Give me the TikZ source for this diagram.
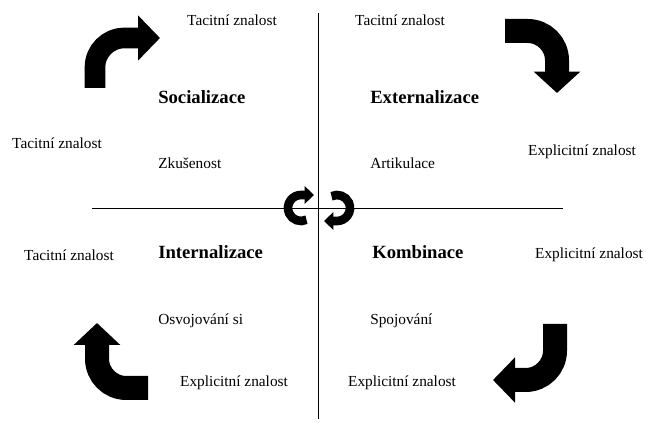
\documentclass[tikz,border=0pt]{standalone}
\usepackage{fontspec}
\setmainfont{Liberation Serif}
\usetikzlibrary{arrows.meta}

\begin{document}
\begin{tikzpicture}[x=0.75pt,y=-0.75pt,
  lbl/.style={inner sep=0pt,font=\fontsize{11.5}{13}\selectfont},
  hdr/.style={inner sep=0pt,anchor=west,font=\fontsize{14}{16}\selectfont\bfseries},
  sub/.style={lbl,anchor=west},
  bend/.style n args={3}{line width=#1,rounded corners=22pt,-{Triangle[length=#2,width=#3]}},
  turn/.style={line width=6.5pt,-{Triangle[length=7pt,width=13pt]}}]
\useasboundingbox (0,0) rectangle (646,423);
% axes
\coordinate (top) at (318,13);
\coordinate (bot) at (318,419);
\coordinate (lft) at (92,208);
\coordinate (rgt) at (563,208);
\draw (top) -- (bot);
\draw (lft) -- (rgt);
% quadrant titles
\node[hdr] (soc) at (158,97) {Socializace};
\node[hdr] (ext) at (370,97) {Externalizace};
\node[hdr] (int) at (158,252) {Internalizace};
\node[hdr] (kom) at (372,252) {Kombinace};
\node[sub] (zku) at (158,163) {Zkušenost};
\node[sub] (art) at (370,163) {Artikulace};
\node[sub] (osv) at (158,321) {Osvojování si};
\node[sub] (spo) at (370,321) {Spojování};
% knowledge labels
\foreach \n/\x/\y/\t in %
{t1/232/20/Tacitní znalost,t2/400/20/Tacitní znalost,t3/57/143/Tacitní znalost,t4/69/255/Tacitní znalost,
 e1/582/152/Explicitní znalost,e2/589/255/Explicitní znalost,e3/234/383/Explicitní znalost,e4/402/383/Explicitní znalost} {
   \node[lbl] (\n) at (\x,\y) {\t};
}
% corner arrows
\draw[bend={15.5pt}{16.5pt}{33pt}] (95,88) -- (95,38) -- (160,38);
\draw[bend={18pt}{16pt}{34pt}] (505,31) -- (557,31) -- (557,93);
\draw[bend={18pt}{16.5pt}{34pt}] (148,388) -- (97,388) -- (97,323);
\draw[bend={18pt}{16.5pt}{33pt}] (555,324) -- (555,380) -- (493,380);
% cycle in the middle
\draw[turn] (301,208) ++(65:13) arc[start angle=65,end angle=270,radius=13] -- ++(13,0);
\draw[turn] (337,208) ++(-115:13) arc[start angle=-115,end angle=90,radius=13] -- ++(-13,0);
\end{tikzpicture}
\end{document}
